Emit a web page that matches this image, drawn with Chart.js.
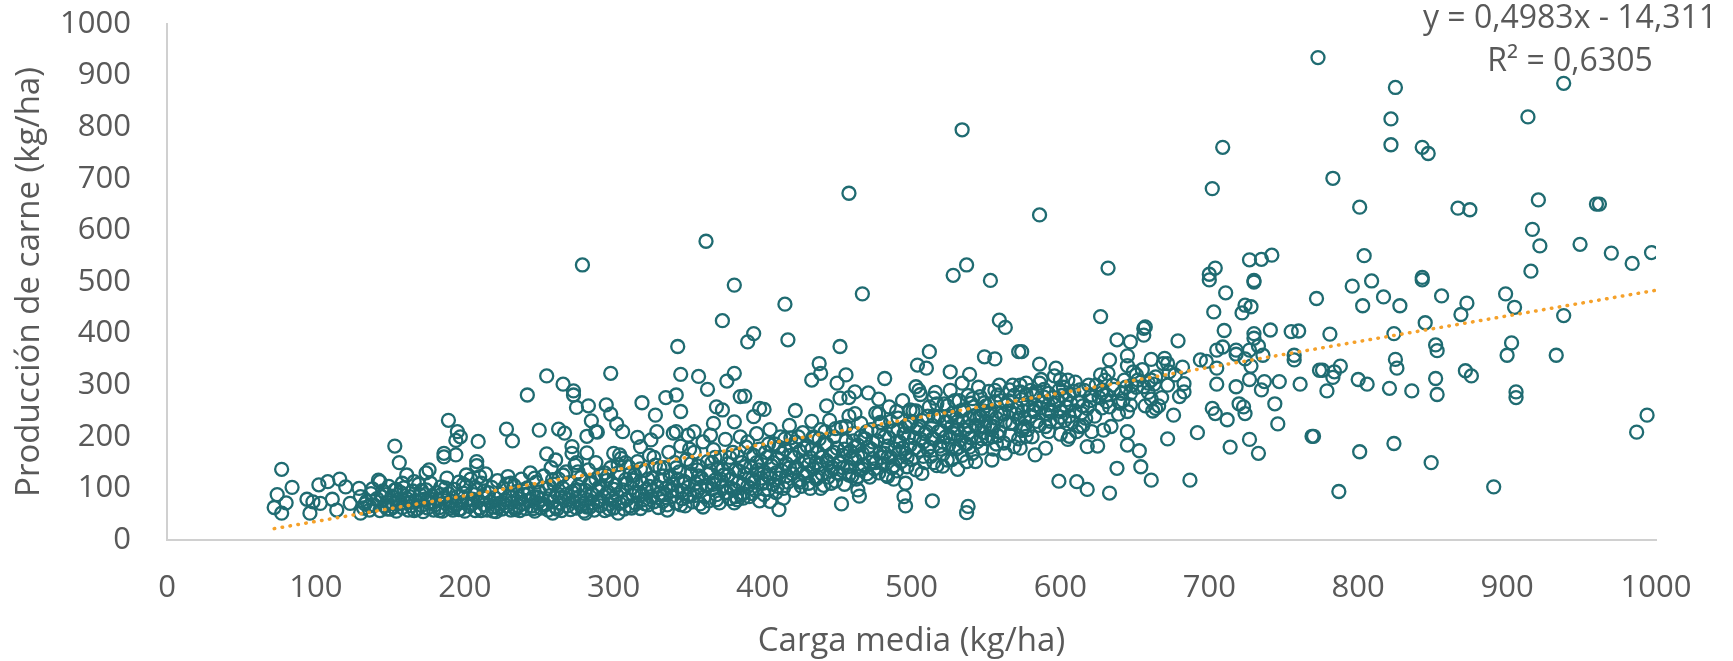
<!DOCTYPE html>
<html>
<head>
<meta charset="utf-8">
<script src="https://cdn.jsdelivr.net/npm/chart.js@4"></script>
<style>
html,body{margin:0;padding:0;background:#fff;}
#wrap{width:1733px;height:661px;}
</style>
</head>
<body>
<div id="wrap"><canvas id="c" width="1733" height="661"></canvas></div>
<script>
// ---- Data: [carga media, producción de carne] ----
const puntos_70_190 = [
[72,63],[77,52],[74,88],[77,137],[80,72],[84,102],[94,79],[96,52],[98,74],[102,107],[103,71],[108,113],[111,79],[114,58],[116,118],[120,103],[123,71],[129,100],[130,84],[130,52],
[142,116],[143,113],[153,182],[153,97],[156,150],[161,126],[166,113],[174,130],[176,136],[186,168],[186,161],[189,232],
[132,62],[134,75],[136,58],[137,90],[139,68],[141,80],[143,57],[145,95],[146,66],[148,73],[149,104],[150,60],
[151,85],[152,70],[154,56],[155,78],[157,92],[158,63],[159,101],[160,72],[162,58],[163,84],[164,66],[165,95],[167,76],[168,60],[169,108],[170,88],
[171,67],[172,55],[173,79],[174,97],[175,62],[176,72],[177,110],[178,85],[179,58],[180,68],[181,92],[182,77],[183,63],[184,103],[185,56],[186,82],[187,71],[188,120],[189,90],[190,62],
[133,70],[147,88],[138,99],[152,64],[161,80],[166,57],[158,110],[171,96],[179,74],[184,88],[176,81],[164,73],[154,98],[144,84],[136,66],[148,60],[157,71],[183,57],[187,101]
];
const puntos_190_280 = [
[195,210],[194,193],[197,200],[194,165],[208,152],[208,144],[210,123],[201,126],[209,191],[228,215],[232,192],[250,213],[255,167],[255,318],[242,281],[261,155],[263,215],[267,207],
[191,75],[192,58],[193,98],[194,67],[195,84],[196,112],[197,60],[198,73],[199,91],[200,56],[201,105],[202,80],[203,65],[204,118],
[205,70],[206,88],[207,57],[208,97],[209,76],[210,62],[211,110],[212,84],[213,68],[214,128],[215,58],[216,92],[217,74],[218,102],[219,64],[220,82],
[221,55],[222,115],[223,71],[224,89],[225,60],[226,100],[227,78],[228,66],[229,123],[230,86],[231,58],[232,73],[233,106],[234,63],[235,94],[236,80],[237,57],[238,118],[239,70],[240,88],
[241,61],[242,101],[243,76],[244,130],[245,66],[246,84],[247,56],[248,112],[249,72],[250,93],[251,62],[252,79],[253,124],[254,68],[255,99],[256,58],[257,86],[258,140],[259,74],[260,108],
[192,66],[199,108],[205,79],[213,95],[219,56],[226,72],[231,110],[236,66],[243,90],[247,120],[252,70],[257,104],[262,60],[266,126],[270,78],[274,96],[278,66],[276,132],[268,88],[259,117],
[249,83],[239,97],[228,108],[222,63],[214,81],[207,102],[196,59],[211,57],[234,59],[246,61],[264,82]
];
const puntos_260_330 = [
[266,302],[273,289],[273,281],[275,257],[283,260],[285,231],[288,210],[289,209],[282,201],[272,181],[272,168],[282,169],[275,150],[259,52],[281,52],[279,533],
[298,323],[295,262],[298,244],[302,225],[306,210],[316,199],[325,194],[329,210],[300,168],[304,165],[318,181],[303,52],[319,266],[328,242],
[261,64],[262,90],[263,118],[264,72],[265,57],[266,100],[267,82],[268,132],[269,66],[270,111],[271,59],[272,93],[273,75],[274,145],[275,62],[276,104],[277,84],[278,121],[279,70],[280,56],
[281,96],[282,78],[283,136],[284,64],[285,112],[286,88],[287,58],[288,150],[289,74],[290,102],[291,66],[292,125],[293,84],[294,57],[295,115],[296,93],[297,70],[298,140],[299,80],[300,62],
[301,106],[302,88],[303,130],[304,71],[305,158],[306,97],[307,60],[308,117],[309,79],[310,142],[311,66],[312,101],[313,86],[314,126],[315,70],[316,152],[317,92],[318,61],[319,111],[320,78],
[321,135],[322,98],[323,68],[324,164],[325,84],[326,120],[327,74],[328,145],[329,104],[330,63],
[282,64],[285,90],[288,118],[291,78],[294,130],[297,60],[300,98],[303,146],[306,74],[309,110],[312,62],[315,92],[318,138],[321,70],[324,104],[327,160],[330,82],
[284,110],[289,96],[296,124],[301,76],[308,150],[313,116],[319,88],[326,96],[286,72],[299,110],[311,128],[323,118]
];
const puntos_330_400 = [
[343,375],[345,321],[357,317],[363,292],[376,308],[381,323],[385,278],[335,276],[342,281],[345,249],[362,579],[373,425],[381,494],[367,226],[373,252],[369,258],[381,229],[340,207],[342,210],[354,210],[365,203],[350,203],
[382,84],[387,81],[392,100],[405,75],[411,59],[414,81],
[331,90],[332,115],[333,75],[334,140],[335,100],[336,68],[337,170],[338,124],[339,84],[340,108],[341,150],[342,72],[343,95],[344,132],[345,182],[346,80],[347,114],[348,66],[349,156],[350,102],
[351,88],[352,128],[353,74],[354,170],[355,110],[356,94],[357,143],[358,70],[359,120],[360,190],[361,84],[362,106],[363,152],[364,76],[365,134],[366,98],[367,175],[368,116],[369,88],[370,140],
[371,72],[372,160],[373,104],[374,126],[375,195],[376,92],[377,148],[378,80],[379,118],[380,170],[381,98],[382,136],[383,78],[384,112],[385,200],[386,150],[387,90],[388,128],[389,180],[390,104],
[391,84],[392,142],[393,118],[394,164],[395,96],[396,206],[397,130],[398,76],[399,152],[400,110],
[333,124],[336,58],[339,96],[342,140],[345,68],[348,112],[351,176],[354,86],[357,124],[360,64],[363,104],[366,150],[369,78],[372,118],[375,92],[378,160],[381,72],[384,134],[387,108],[390,190],[393,90],[396,150],[399,120],
[331,140],[337,104],[343,118],[349,84],[352,148],[358,102],[364,128],[368,160],[373,136],[379,100],[383,164],[388,142],[394,112],[398,176],[334,88],[346,96],[356,136],[367,108],[377,126],[385,88],[392,166],[397,136]
];
const puntos_400_470 = [
[394,400],[390,384],[417,388],[415,457],[452,375],[438,342],[439,323],[433,310],[450,304],[456,320],[467,477],[458,672],[388,279],[398,255],[401,253],[394,239],[422,251],[443,260],[452,275],[458,276],[462,287],[471,285],[478,273],[462,245],[478,245],
[432,100],[439,100],[446,110],[453,70],[464,123],[464,97],[465,85],
[401,88],[402,170],[403,126],[404,98],[405,214],[406,144],[407,108],[408,186],[409,92],[410,158],[411,120],[412,200],[413,134],[414,100],[415,176],[416,148],[417,112],[418,222],[419,164],[420,128],
[421,96],[422,190],[423,140],[424,116],[425,172],[426,104],[427,208],[428,152],[429,124],[430,182],[431,110],[432,160],[433,230],[434,138],[435,198],[436,118],[437,170],[438,146],[439,214],[440,128],
[441,106],[442,186],[443,154],[444,122],[445,232],[446,166],[447,140],[448,200],[449,114],[450,178],[451,150],[452,128],[453,218],[454,164],[455,108],[456,192],[457,142],[458,240],[459,172],[460,124],
[461,206],[462,156],[463,118],[464,184],[465,136],[466,226],[467,168],[468,146],[469,196],[470,128],
[401,132],[404,186],[407,150],[410,104],[413,168],[416,124],[419,198],[422,140],[425,112],[428,178],[431,146],[434,200],[437,122],[440,160],[443,186],[446,134],[449,216],[452,150],[455,176],[458,126],[461,192],[464,162],[467,138],[470,210],
[403,160],[409,130],[415,196],[421,160],[427,130],[433,176],[438,196],[444,150],[450,130],[456,220],[462,180],[468,196],[405,120],[411,180],[418,140],[424,200],[430,130],[436,150],[442,210],[448,170],[454,140],[460,160],[466,200]
];
const puntos_470_560 = [
[482,313],[512,365],[504,339],[510,333],[526,326],[539,321],[534,304],[549,355],[556,351],[559,426],[563,412],[572,365],[490,249],[499,252],[503,297],[505,290],[515,275],[499,226],[526,239],[540,265],[546,278],[558,281],[566,291],[573,287],[577,304],[575,216],[566,203],[555,220],[549,220],[539,220],[531,214],
[524,155],[531,137],[537,152],[543,152],[554,155],[563,168],[569,181],[515,150],[521,143],[507,129],[514,76],[538,65],[537,53],[496,110],[495,84],[496,66],[484,123],[488,118],[534,795],[528,513],[537,533],[553,503],
[471,180],[472,122],[473,214],[474,158],[475,138],[476,246],[477,192],[478,130],[479,170],[480,226],
[481,148],[482,200],[483,126],[484,182],[485,258],[486,160],[487,140],[488,212],[489,176],[490,134],
[491,236],[492,190],[493,152],[494,270],[495,206],[496,168],[497,142],[498,224],[499,184],[500,156],
[501,250],[502,198],[503,136],[504,216],[505,174],[506,282],[507,232],[508,190],[509,150],[510,210],
[511,176],[512,258],[513,162],[514,222],[515,196],[516,286],[517,144],[518,238],[519,182],[520,212],
[521,166],[522,264],[523,200],[524,228],[525,184],[526,290],[527,156],[528,246],[529,206],[530,176],
[531,230],[532,270],[533,194],[534,164],[535,252],[536,214],[537,186],[538,280],[539,236],[540,198],
[541,168],[542,258],[543,222],[544,190],[545,296],[546,240],[547,178],[548,208],[549,266],[550,230],
[551,196],[552,288],[553,250],[554,214],[555,176],[556,268],[557,236],[558,202],[559,300],[560,246],
[473,176],[476,150],[479,228],[482,168],[485,198],[488,144],[491,214],[494,178],[497,160],[500,230],
[474,190],[480,160],[486,230],[492,170],[498,200],[472,150],[478,210],[484,160],[490,190],[496,220],
[502,178],[505,220],[508,162],[511,240],[514,196],[517,264],[520,176],[523,230],[526,200],[529,270],[532,180],[535,230],[538,206],[541,274],[544,236],[547,196],[550,260],[553,222],[556,290],[559,210],
[503,250],[509,206],[515,240],[521,190],[527,220],[533,250],[539,180],[545,218],[551,246],[557,186],
[506,196],[512,180],[518,210],[524,260],[530,236],[536,186],[542,240],[548,250],[554,200]
];
const puntos_560_780 = [
[562,188],[564,262],[566,226],[568,300],[570,244],[572,196],[574,272],[576,236],[578,214],[580,290],[582,252],[584,230],[586,304],[588,266],[590,220],[592,284],[594,248],[596,318],[598,270],[600,238],[602,296],[604,258],[606,282],[608,228],[610,306],[612,268],[614,246],[616,290],[620,270],[624,300],[628,256],[636,292],[642,270],[648,300],
[562,244],[565,270],[568,226],[571,256],[574,212],[577,282],[580,240],[583,262],[586,222],[589,292],[592,250],[595,276],[598,230],[601,280],
[563,230],[569,280],[575,250],[581,200],[587,256],[593,230],[599,290],[560,270],[566,250],[572,236],[578,262],[584,286],[590,244],[596,262],
[603,232],[609,288],[615,260],[619,300],[623,240],[627,320],[631,268],[635,300],[639,244],[643,310],[647,262],[651,296],[655,330],[659,286],[664,316],[668,276],[672,300],[677,320],[610,250],[617,236],[626,276],[633,258],[644,296],[657,260],
[700,504],[730,500],[711,479],[772,468],[703,442],[722,440],[728,452],[724,455],[627,433],[656,410],[657,413],[656,397],[638,388],[647,384],[679,386],[710,406],[741,407],[730,400],[755,404],[760,405],[730,391],[733,376],[727,368],[736,358],[705,368],[709,374],[718,368],[718,360],[694,349],[698,346],[705,333],[724,351],[728,337],[757,358],[757,349],[774,329],[761,302],[747,307],[737,307],[735,291],[727,311],[718,297],[705,302],[744,264],[746,225],[720,264],[723,258],[724,245],[712,233],[702,255],[704,245],[769,201],[727,195],[733,168],[714,180],[692,208],[687,116],[672,196],[676,242],[680,278],[683,287],[683,303],[682,335],[673,326],[670,352],[672,342],[669,342],[661,350],[661,310],[663,302],[659,304],[666,260],[664,255],[662,250],[661,273],[656,297],[647,284],[649,326],[651,320],[652,310],[645,357],[645,338],[633,349],[632,323],[630,310],[628,291],[641,284],[640,265],[645,249],[645,210],[645,184],[653,173],[638,139],[654,142],[661,116],[633,91],[618,98],[611,113],[599,114],[625,182],[618,181],[634,220],[629,213],[621,210],[615,221],[618,255],[621,281],[628,285],[631,281],[613,291],[605,310],[600,311],[597,333],[586,341],[587,311],[574,365],[573,300],[582,280],[589,277],[592,262],[604,272],[607,265],[606,240],[600,249],[613,220],[592,210],[600,205],[605,195],[606,201],[611,210],[590,178],[583,165],[573,178],[577,201],[576,220],[582,249],
[709,761],[702,681],[586,630],[632,527],[704,527],[700,515],[727,543],[735,544],[742,552],[730,503]
];
const puntos_780_1000 = [
[796,492],[809,502],[843,504],[803,454],[817,471],[828,454],[856,473],[873,459],[869,437],[899,477],[905,451],[938,435],[845,421],[781,399],[824,400],[852,378],[853,367],[903,382],[900,358],[933,358],[825,350],[826,333],[788,337],[776,329],[784,326],[783,315],[779,289],[800,311],[806,302],[821,294],[836,289],[852,313],[853,282],[872,328],[876,318],[906,287],[906,276],[994,242],[987,209],[770,201],[801,171],[824,187],[849,150],[891,103],[787,94],
[773,935],[825,877],[938,885],[822,816],[914,820],[822,766],[843,761],[847,749],[783,701],[801,645],[867,643],[875,640],[921,659],[960,651],[962,651],[917,602],[922,570],[949,573],[970,556],[984,536],[997,557],[804,551],[916,521],[843,509]
];
// Linear trend (dotted) endpoints as seen in the picture
const tendenciaX = [72, 1000];
const tendenciaY = [22, 484];
const ecuacion = ['y = 0,4983x - 14,311', 'R² = 0,6305'];
const ticksEje = [0,100,200,300,400,500,600,700,800,900,1000];
const tituloX = 'Carga media (kg/ha)';
const tituloY = 'Producción de carne (kg/ha)';

const todos = [].concat(puntos_70_190, puntos_190_280, puntos_260_330, puntos_330_400,
  puntos_400_470, puntos_470_560, puntos_560_780, puntos_780_1000);

const GRIS = '#595959';
const FONT = "'Open Sans', sans-serif";

const eqPlugin = {
  id: 'eq',
  afterDraw(chart) {
    const ctx = chart.ctx;
    ctx.save();
    ctx.fillStyle = GRIS;
    ctx.font = "32px " + FONT;
    ctx.textAlign = 'center';
    ctx.textBaseline = 'middle';
    ctx.fillText(ecuacion[0], 1570, 19);
    ctx.fillText(ecuacion[1], 1570, 62);
    ctx.restore();
  }
};

const fixTicks = (s) => { s.ticks = ticksEje.map(v => ({value: v})); };

new Chart(document.getElementById('c'), {
  type: 'scatter',
  data: {
    datasets: [
      {
        type: 'line',
        order: 0,
        data: tendenciaX.map((x, i) => ({x, y: tendenciaY[i]})),
        borderColor: '#F5A12A',
        borderWidth: 3.5,
        borderDash: [0.5, 7.5],
        borderCapStyle: 'round',
        pointRadius: 0,
        fill: false,
        tension: 0
      },
      {
        order: 1,
        data: todos.map(p => ({x: p[0], y: p[1]})),
        pointStyle: 'circle',
        pointRadius: 6.5,
        pointBorderWidth: 2.3,
        pointBackgroundColor: 'rgba(0,0,0,0)',
        pointBorderColor: '#1F6B71'
      }
    ]
  },
  options: {
    responsive: false,
    animation: false,
    devicePixelRatio: 1,
    layout: { padding: { left: 0, right: 77, top: 24, bottom: 0 } },
    plugins: { legend: { display: false }, tooltip: { enabled: false } },
    scales: {
      x: {
        type: 'linear', min: 0, max: 1000,
        afterBuildTicks: fixTicks,
        afterFit: (s) => { s.height = 121; s.paddingLeft = 0; s.paddingRight = 0; },
        grid: { display: false, drawTicks: false },
        border: { display: true, color: '#D0D0D0', width: 2 },
        ticks: { color: GRIS, font: { family: FONT, size: 31 }, padding: 30, maxRotation: 0, callback: v => String(v) },
        title: { display: true, text: tituloX, color: GRIS, font: { family: FONT, size: 33 }, padding: { top: 0, bottom: 0 } }
      },
      y: {
        type: 'linear', min: 0, max: 1000,
        afterBuildTicks: fixTicks,
        afterFit: (s) => { s.width = 167; s.paddingTop = 0; s.paddingBottom = 0; },
        grid: { display: false, drawTicks: false },
        border: { display: true, color: '#D0D0D0', width: 2 },
        ticks: { color: GRIS, font: { family: FONT, size: 31 }, padding: 36, callback: v => String(v) },
        title: { display: true, text: tituloY, color: GRIS, font: { family: FONT, size: 33 }, padding: { top: 10, bottom: 0 } }
      }
    }
  },
  plugins: [eqPlugin]
});
</script>
</body>
</html>
